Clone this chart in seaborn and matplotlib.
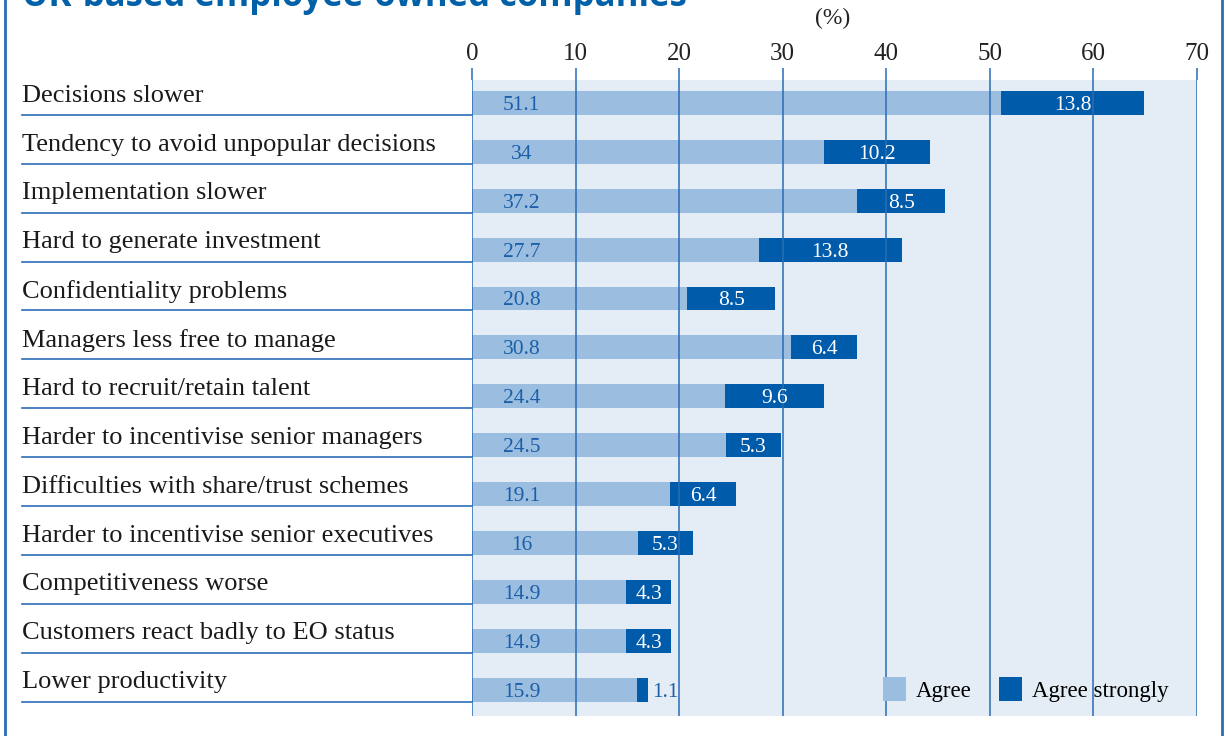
import matplotlib
matplotlib.use('Agg')
import matplotlib.pyplot as plt
import matplotlib.transforms as mtransforms
from matplotlib.lines import Line2D
from matplotlib.patches import Patch
import seaborn as sns

# 데이터
categories = ['Decisions slower',
              'Tendency to avoid unpopular decisions',
              'Implementation slower',
              'Hard to generate investment',
              'Confidentiality problems',
              'Managers less free to manage',
              'Hard to recruit/retain talent',
              'Harder to incentivise senior managers',
              'Difficulties with share/trust schemes',
              'Harder to incentivise senior executives',
              'Competitiveness worse',
              'Customers react badly to EO status',
              'Lower productivity']
agree = [51.1, 34, 37.2, 27.7, 20.8, 30.8, 24.4, 24.5, 19.1, 16, 14.9, 14.9, 15.9]
agree_strongly = [13.8, 10.2, 8.5, 13.8, 8.5, 6.4, 9.6, 5.3, 6.4, 5.3, 4.3, 4.3, 1.1]
agree_text = ['51.1', '34', '37.2', '27.7', '20.8', '30.8', '24.4', '24.5', '19.1', '16', '14.9', '14.9', '15.9']
xticks = [0, 10, 20, 30, 40, 50, 60, 70]

LIGHT = '#9bbde0'
DARK = '#005bab'
PANEL = '#e4ecf5'
LINE = '#2a6cb5'
SERIF = 'Liberation Serif'

totals = [a + s for a, s in zip(agree, agree_strongly)]

fig = plt.figure(figsize=(12.26, 7.36), dpi=100)
ax = fig.add_axes([472 / 1226, 1 - 716 / 736, (1197 - 472) / 1226, (716 - 80) / 736])
ax.set_facecolor(PANEL)

# 전체 막대(진한색) 위에 agree(연한색)를 덮어서 누적 막대처럼 그림
sns.barplot(x=totals, y=categories, orient='h', color=DARK, saturation=1,
            width=0.49, ax=ax, zorder=2)
sns.barplot(x=agree, y=categories, orient='h', color=LIGHT, saturation=1,
            width=0.49, ax=ax, zorder=2)

ax.set_xlim(0, 70)
ax.set_ylim(12.54, -0.47)
ax.set_xlabel('')
ax.set_ylabel('')
ax.set_yticks([])
ax.xaxis.tick_top()
ax.set_xticks(xticks)
ax.set_xticklabels([str(t) for t in xticks], fontsize=18, family=SERIF, color='#222222')
ax.tick_params(axis='x', length=8.6, width=1.1, color=LINE, pad=2, direction='out')
for sp in ax.spines.values():
    sp.set_visible(False)

# 세로 격자선
for t in xticks:
    ax.axvline(t, color=LINE, lw=1.1, zorder=3)

# 값 표시
for i in range(len(categories)):
    ax.text(4.8, i + 0.05, agree_text[i], ha='center', va='center',
            fontsize=15.5, family=SERIF, color='#1a5fa8', zorder=4)
    s = agree_strongly[i]
    if s < 3:
        ax.text(totals[i] + 0.4, i + 0.05, str(s), ha='left', va='center',
                fontsize=15.5, family=SERIF, color='#1a5fa8', zorder=4)
    else:
        ax.text(agree[i] + s / 2, i + 0.05, str(s), ha='center', va='center',
                fontsize=15.5, family=SERIF, color='white', zorder=4)

# 왼쪽 항목 이름과 밑줄
trans = mtransforms.blended_transform_factory(fig.transFigure, ax.transData)
for i, name in enumerate(categories):
    ax.text(22 / 1226, i - 0.15, name, transform=trans, ha='left', va='center',
            fontsize=19, family=SERIF, color='#1a1a1a', clip_on=False)
    ax.add_line(Line2D([22 / 1226, 472 / 1226], [i + 0.245, i + 0.245],
                       transform=trans, color=LINE, lw=1.2, clip_on=False))

# 범례
handles = [Patch(facecolor=LIGHT, edgecolor='none', label='Agree'),
           Patch(facecolor=DARK, edgecolor='none', label='Agree strongly')]
leg = ax.legend(handles=handles, loc='lower right', bbox_to_anchor=(0.99, -0.01),
                ncol=2, frameon=False, handlelength=1.0, handleheight=1.2,
                handletextpad=0.45, columnspacing=1.2,
                prop={'family': SERIF, 'size': 16.5})

# 제목, 단위, 테두리
fig.text(22 / 1226, 1 - 6 / 736, 'UK-based employee-owned companies',
         ha='left', va='baseline', fontsize=25, fontweight='bold',
         family='Open Sans', color='#0060a8')
fig.text(833 / 1226, 1 - 18 / 736, '(%)', ha='center', va='center',
         fontsize=17, family=SERIF, color='#222222')
fig.add_artist(Line2D([5 / 1226, 5 / 1226], [0, 1], transform=fig.transFigure,
                      color=LINE, lw=2))
fig.add_artist(Line2D([1222 / 1226, 1222 / 1226], [0, 1], transform=fig.transFigure,
                      color=LINE, lw=2))

fig.savefig('out.png', dpi=100)
plt.close()
